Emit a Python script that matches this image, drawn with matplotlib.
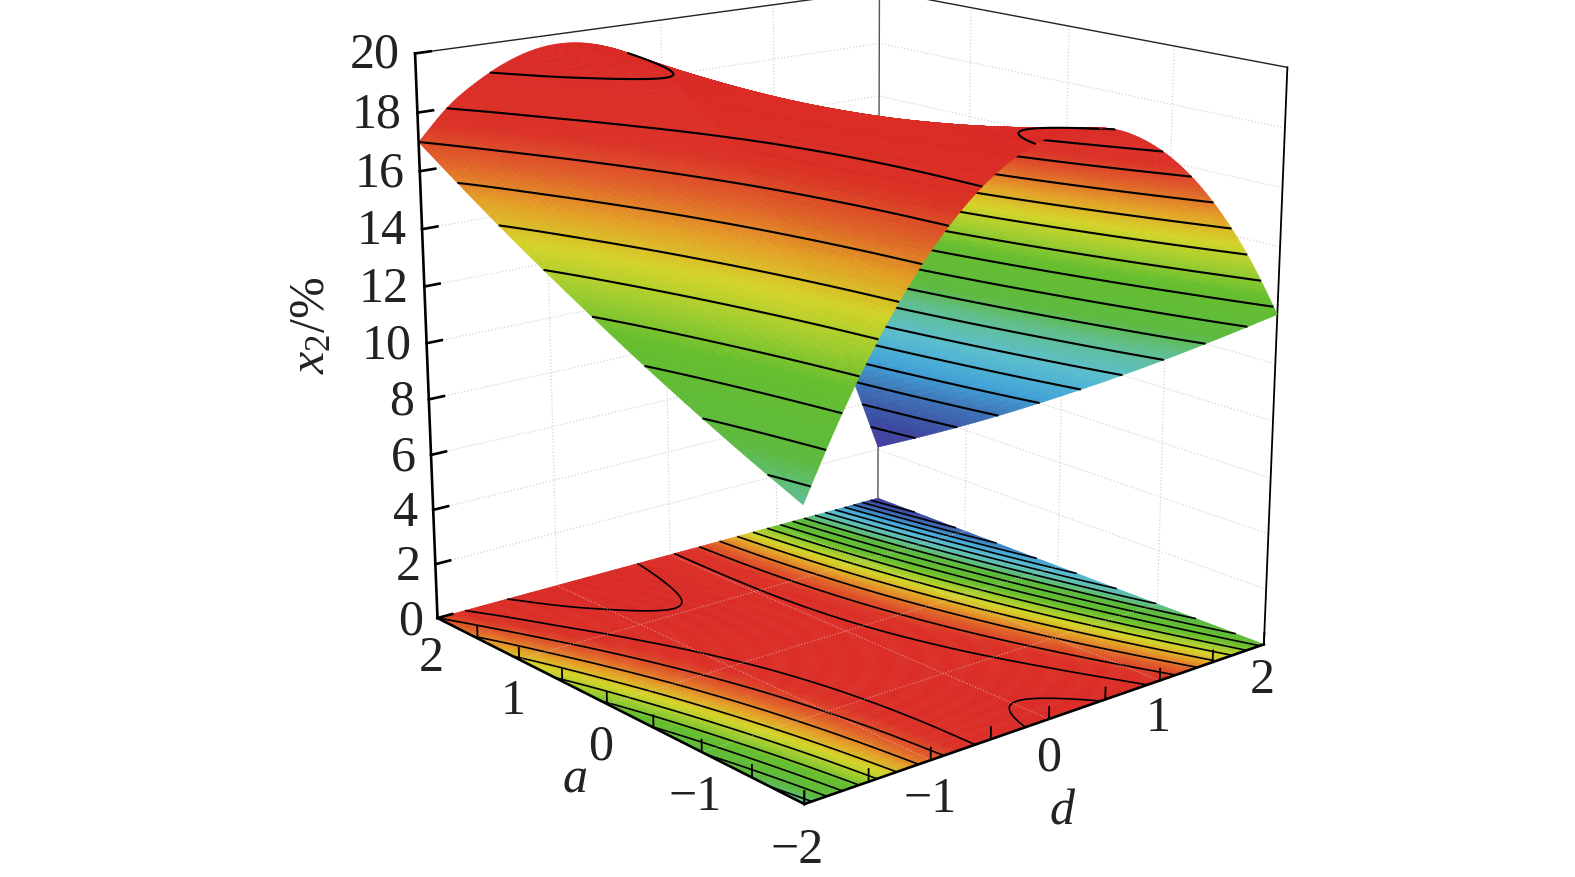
import numpy as np
import matplotlib
matplotlib.use('Agg')
import matplotlib.pyplot as plt
from matplotlib.colors import LinearSegmentedColormap
from mpl_toolkits.mplot3d import proj3d

plt.rcParams['font.family'] = ['Liberation Serif', 'DejaVu Serif']
plt.rcParams['mathtext.fontset'] = 'custom'
plt.rcParams['mathtext.rm'] = 'Liberation Serif'
plt.rcParams['mathtext.it'] = 'Liberation Serif:italic'

# x2, one row per a, one column per d
a_values = [-2.0, -1.5, -1.0, -0.5, 0.0, 0.5, 1.0, 1.5, 2.0]
d_values = [-2.0, -1.75, -1.5, -1.25, -1.0, -0.75, -0.5, -0.25, 0.0,
            0.25, 0.5, 0.75, 1.0, 1.25, 1.5, 1.75, 2.0]
x2_values = [
    [9.50, 11.65, 13.54, 15.15, 16.50, 17.58, 18.39, 18.93, 19.20, 19.20, 18.94, 18.40, 17.60, 16.53, 15.19, 13.58, 11.70],
    [10.27, 12.29, 14.04, 15.53, 16.74, 17.68, 18.36, 18.77, 18.91, 18.78, 18.38, 17.71, 16.77, 15.57, 14.09, 12.35, 10.34],
    [11.09, 12.98, 14.60, 15.95, 17.03, 17.84, 18.38, 18.65, 18.66, 18.39, 17.86, 17.06, 15.99, 14.65, 13.04, 11.16, 9.02],
    [11.96, 13.71, 15.20, 16.41, 17.36, 18.04, 18.44, 18.58, 18.45, 18.06, 17.39, 16.46, 15.25, 13.78, 12.04, 10.03, 7.75],
    [12.88, 14.49, 15.84, 16.93, 17.74, 18.28, 18.56, 18.56, 18.30, 17.77, 16.97, 15.90, 14.56, 12.96, 11.08, 8.94, 6.53],
    [13.84, 15.32, 16.54, 17.49, 18.16, 18.58, 18.72, 18.59, 18.19, 17.53, 16.59, 15.39, 13.92, 12.18, 10.17, 7.89, 5.35],
    [14.84, 16.20, 17.28, 18.09, 18.64, 18.91, 18.92, 18.66, 18.13, 17.33, 16.27, 14.93, 13.33, 11.45, 9.31, 6.90, 4.22],
    [15.90, 17.12, 18.07, 18.75, 19.12, 19.24, 19.13, 18.76, 18.12, 17.19, 15.98, 14.52, 12.78, 10.77, 8.49, 5.95, 3.14],
    [17.00, 18.09, 18.82, 19.34, 19.62, 19.63, 19.38, 18.90, 18.15, 17.09, 15.75, 14.15, 12.28, 10.14, 7.72, 5.05, 2.10],
]
# where the surface folds away from the viewer, per a
fold_d = [0.37, 0.29, 0.21, 0.14, 0.06, -0.01, -0.09, -0.16, -0.24]

z_ticks = [0, 2, 4, 6, 8, 10, 12, 14, 16, 18, 20]
ab_ticks = [-2, -1, 0, 1, 2]
ab_labels = ['\u22122', '\u22121', '0', '1', '2']
contour_levels = [3, 4, 5, 6, 7, 8, 9, 10, 11, 12, 13, 14, 15, 16, 17, 18, 19]

cmap_z = [2, 3.5, 5, 6.5, 8, 9.5, 10.5, 12.5, 13.5, 14.5, 15.5, 16.5, 17.5, 20]
cmap_rgb = ['#483aa0', '#3a48a0', '#3c6eb4', '#41a5d7', '#5abecd', '#5fbe8c',
            '#5cb93c', '#64be2d', '#a0cd2d', '#d4d428', '#e4a026', '#e05f28',
            '#db3026', '#da2826']
cmap = LinearSegmentedColormap.from_list(
    'surf', [((z - 2) / 18, c) for z, c in zip(cmap_z, cmap_rgb)])


def smooth(xnew, x, y):
    # cubic through the table values, only to shade and trace the cells
    x = np.asarray(x)
    y = np.asarray(y)
    m = np.gradient(y, x)
    i = np.clip(np.searchsorted(x, xnew) - 1, 0, len(x) - 2)
    h = x[i + 1] - x[i]
    t = (xnew - x[i]) / h
    return ((2 * t**3 - 3 * t**2 + 1) * y[i] + (t**3 - 2 * t**2 + t) * h * m[i]
            + (-2 * t**3 + 3 * t**2) * y[i + 1] + (t**3 - t**2) * h * m[i + 1])


a_fine = np.linspace(-2, 2, 161)
d_fine = np.linspace(-2, 2, 161)
rows = np.array([smooth(d_fine, d_values, r) for r in x2_values])
Z = np.array([smooth(a_fine, a_values, c) for c in rows.T]).T
D, A = np.meshgrid(d_fine, a_fine)
fold = np.interp(a_fine, a_values, fold_d)[:, None]

fig = plt.figure(figsize=(15.75, 8.77), dpi=100)
ax = fig.add_axes([0.0806, -0.2225, 0.889, 1.596], projection='3d', computed_zorder=False)
ax.set_proj_type('persp', focal_length=0.4)
ax.view_init(elev=16, azim=-130)
ax.set_box_aspect((1, 1, 0.985), zoom=0.72)
ax.set_axis_off()
ax.set_xlim(-2, 2)
ax.set_ylim(-2, 2)
ax.set_zlim(0, 20)

colors = cmap((Z - 2) / 18)

# floor
ax.plot_surface(D, A, np.zeros_like(Z), facecolors=colors, rstride=1, cstride=1,
                shade=False, linewidth=0.4, zorder=1)
ax.contour(D, A, Z, levels=contour_levels, colors='k', linewidths=1.2,
           zdir='z', offset=0, zorder=2)

# back walls, grid
grid = dict(color='#d4d4d4', ls=':', lw=0.9)
floor_grid = dict(color='#f0f0f0', ls=':', lw=0.8, alpha=0.5)
for t in ab_ticks[1:-1]:
    ax.plot([t, t], [2, 2], [0, 20], zorder=3, **grid)
    ax.plot([2, 2], [t, t], [0, 20], zorder=3, **grid)
    ax.plot([t, t], [-2, 2], [0, 0], zorder=3, **floor_grid)
    ax.plot([-2, 2], [t, t], [0, 0], zorder=3, **floor_grid)
for t in z_ticks[1:-1]:
    ax.plot([-2, 2], [2, 2], [t, t], zorder=3, **grid)
    ax.plot([2, 2], [-2, 2], [t, t], zorder=3, **grid)

# frame
thin = dict(color='#222222', lw=1.0)
ax.plot([2, 2], [2, 2], [0, 20], zorder=3, color='#555555', lw=1.0)
ax.plot([-2, 2], [2, 2], [20, 20], zorder=3, **thin)
ax.plot([2, 2], [2, -2], [20, 20], zorder=3, **thin)
ax.plot([2, 2], [-2, -2], [0, 20], zorder=3, color='k', lw=1.3)
thick = dict(color='k', lw=1.9)
ax.plot([-2, -2], [2, 2], [0, 20], zorder=9, **thick)
ax.plot([-2, -2], [2, -2], [0, 0], zorder=9, **thick)
ax.plot([-2, 2], [-2, -2], [0, 0], zorder=9, **thick)

# surface, the part behind the fold first
back = colors.copy()
back[D < fold - 0.07] = (0, 0, 0, 0)
ax.plot_surface(D, A, Z, facecolors=back, rstride=1, cstride=1, shade=False,
                linewidth=0.4, zorder=4)
# the top of the far side only shows near a = -2
back_lines = np.where((D >= fold - 0.05) & ~((Z > 17.5) & (A > -0.8)), Z, np.nan)
ax.contour(D, A, back_lines, levels=contour_levels, colors='k', linewidths=1.5, zorder=5)
front = colors.copy()
front[D > fold] = (0, 0, 0, 0)
ax.plot_surface(D, A, Z, facecolors=front, rstride=1, cstride=1, shade=False,
                linewidth=0.4, zorder=6)
ax.contour(D, A, np.where(D <= fold + 0.05, Z, np.nan), levels=contour_levels, colors='k',
           linewidths=1.5, zorder=7)


def label(d, a, z, text, **kw):
    # project by hand so the text sits in the plain 2D coordinates of the axes
    x, y, _ = proj3d.proj_transform(d, a, z, ax.get_proj())
    ax.text2D(x, y, text, transform=ax.transData, va='center', fontsize=36,
              color='#222222', **kw)


# ticks
for t in z_ticks:
    ax.plot([-2, -1.88], [2, 2], [t, t], zorder=9, color='k', lw=1.9)
    label(-2.12, 2, t, str(t), ha='right')
for t in np.arange(-2, 2.5, 0.5):
    ax.plot([-2, -2], [t, t], [0, 0.42], zorder=9, color='k', lw=1.3)
    ax.plot([t, t], [-2, -2], [0, 0.42], zorder=9, color='k', lw=1.3)
for t, lab in zip(ab_ticks, ab_labels):
    label(-2.06, t, -1.45, lab, ha='center')
    if t > -2:
        label(t, -2, -1.35, lab, ha='center')

fig.text(575 / 1575, 1 - 780 / 877, 'a', style='italic', fontsize=36, ha='center', va='center', color='#222222')
fig.text(1062 / 1575, 1 - 812 / 877, 'd', style='italic', fontsize=36, ha='center', va='center', color='#222222')
fig.text(312 / 1575, 1 - 325 / 877, r'$\mathit{x}_{2}\mathrm{/\%}$', rotation=90, fontsize=36,
         ha='center', va='center', color='#222222')

fig.savefig('out.png', dpi=100)
